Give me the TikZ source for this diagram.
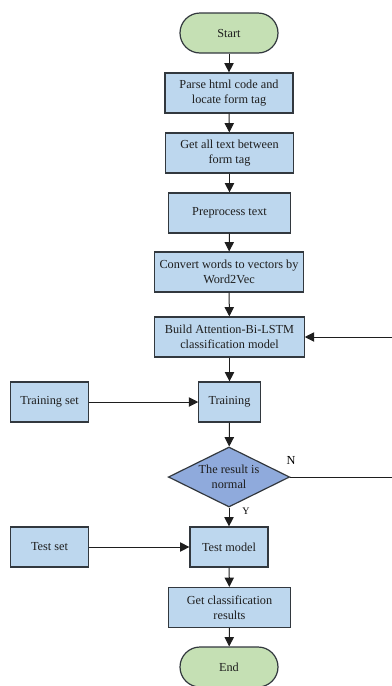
\documentclass[tikz,border=0pt]{standalone}
\usepackage{fontspec}
\setmainfont{Liberation Serif}
\usetikzlibrary{shapes.geometric,arrows.meta}

\tikzset{every picture/.style={line width=0.75pt}}
\tikzset{
  boxnode/.style={draw={rgb,255:red,50;green,56;blue,62},fill={rgb,255:red,189;green,215;blue,238},line width=0.9pt,minimum height=30pt,inner sep=0.75pt,align=center,font=\fontsize{9.2}{11.2}\selectfont,text={rgb,255:red,30;green,30;blue,30}},
  termnode/.style={boxnode,fill={rgb,255:red,197;green,224;blue,180},rounded corners=15pt,minimum width=73.5pt},
  decnode/.style={diamond,aspect=2,draw={rgb,255:red,50;green,56;blue,62},fill={rgb,255:red,143;green,170;blue,220},line width=0.9pt,minimum width=91pt,minimum height=45pt,inner sep=0pt,align=center,font=\fontsize{9.2}{11.2}\selectfont,text={rgb,255:red,30;green,30;blue,30}},
  flow/.style={draw={rgb,255:red,30;green,30;blue,30},-{Triangle[length=7pt,width=7pt]}},
}

\begin{document}
\begin{tikzpicture}[x=0.75pt,y=0.75pt,yscale=-1,xscale=1]
\useasboundingbox (0,0) rectangle (392,686);
\clip (0,0) rectangle (392,686);

%Shape: Terminal
\node [termnode] (start) at (229,33) {Start};
%Shape: Rectangle
\node [boxnode,minimum width=96pt] (parse) at (229,93) {Parse html code and\\locate form tag};
%Shape: Rectangle
\node [boxnode,minimum width=96pt] (gettext) at (229.5,153) {Get all text between\\form tag};
%Shape: Rectangle
\node [boxnode,minimum width=92pt] (preproc) at (229.5,213) {Preprocess text};
%Shape: Rectangle
\node [boxnode,minimum width=112pt] (convert) at (229,272) {Convert words to vectors by\\Word2Vec};
%Shape: Rectangle
\node [boxnode,minimum width=112pt] (build) at (229.5,337) {Build Attention-Bi-LSTM\\classification model};
%Shape: Rectangle
\node [boxnode,minimum width=46pt] (training) at (229.5,402) {Training};
%Shape: Rectangle
\node [boxnode,minimum width=59pt] (trainset) at (49.5,402) {Training set};
%Shape: Diamond
\node [decnode] (normal) at (229,477) {The result is\\normal};
%Shape: Rectangle
\node [boxnode,minimum width=58.5pt] (testmodel) at (229,547) {Test model};
%Shape: Rectangle
\node [boxnode,minimum width=59pt] (testset) at (49.5,547) {Test set};
%Shape: Rectangle
\node [boxnode,minimum width=92pt] (getres) at (229.5,607.5) {Get classification\\results};
%Shape: Terminal
\node [termnode] (stop) at (229,667) {End};

\coordinate (loopdown) at (394,477);
\coordinate (loopup) at (394,337);

% Connectors
\draw [flow] (start) -- (parse);
\draw [flow] (parse) -- (gettext);
\draw [flow] (gettext) -- (preproc);
\draw [flow] (preproc) -- (convert);
\draw [flow] (convert) -- (build);
\draw [flow] (build) -- (training);
\draw [flow] (trainset) -- (training);
\draw [flow] (training) -- (normal);
\draw [flow] (normal) -- (testmodel);
\draw [flow] (testset) -- (testmodel);
\draw [flow] (testmodel) -- (getres);
\draw [flow] (getres) -- (stop);
\draw [flow] (normal.east) -- (loopdown) -- (loopup) -- (build.east);

% Text Node
\node [font=\fontsize{9.2}{11.2}\selectfont,inner sep=0.75pt] (nlabel) at (291,460) {N};
% Text Node
\node [font=\fontsize{7.5}{9}\selectfont,inner sep=0.75pt] (ylabel) at (246,511) {Y};

\end{tikzpicture}
\end{document}
